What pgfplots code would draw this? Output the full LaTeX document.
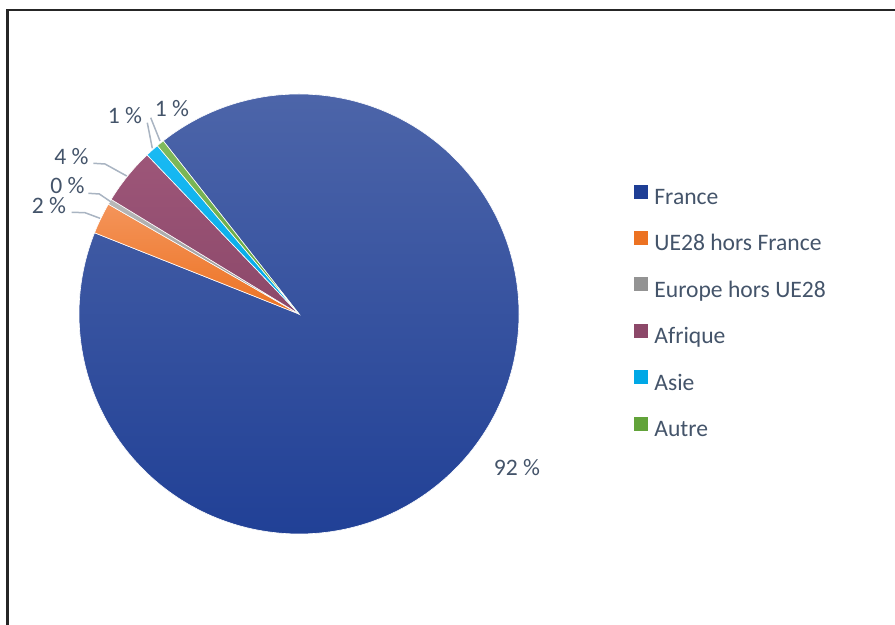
\documentclass[border=0pt]{standalone}
\usepackage{pgfplots}
\pgfplotsset{compat=1.18}
\usepackage{pgfplotstable}
\usepackage{fontspec}
\setmainfont{Carlito}
\definecolor{txt}{HTML}{44546A}
\definecolor{frA}{HTML}{4F67AA}
\definecolor{frB}{HTML}{1E3E95}
\definecolor{orA}{HTML}{F4945A}
\definecolor{orB}{HTML}{EC7222}
\definecolor{grA}{HTML}{B8B8B8}
\definecolor{grB}{HTML}{939393}
\definecolor{afA}{HTML}{9D5679}
\definecolor{afB}{HTML}{8C4869}
\definecolor{asA}{HTML}{1ABAF3}
\definecolor{asB}{HTML}{00A8E6}
\definecolor{auA}{HTML}{80BA5C}
\definecolor{auB}{HTML}{62A33A}
\definecolor{lead}{HTML}{A9B4C2}
\definecolor{frame}{HTML}{262626}

\pgfplotstableread{
name value
France 91.6
UE28 2.3
Europe 0.4
Afrique 4.15
Asie 1.0
Autre 0.55
}\piedata

\newcommand\slice[4]{%
  \shadedraw[top color=#3, bottom color=#4, draw=white, line width=0.3pt]
    (axis cs:299,311) -- ++(#1:110pt) arc[start angle=#1, delta angle={-3.6*#2}, radius=110pt] -- cycle;}

\begin{document}%
\begin{tikzpicture}
\pgfplotstablegetelem{0}{value}\of\piedata \let\vA\pgfplotsretval
\pgfplotstablegetelem{1}{value}\of\piedata \let\vB\pgfplotsretval
\pgfplotstablegetelem{2}{value}\of\piedata \let\vC\pgfplotsretval
\pgfplotstablegetelem{3}{value}\of\piedata \let\vD\pgfplotsretval
\pgfplotstablegetelem{4}{value}\of\piedata \let\vE\pgfplotsretval
\pgfplotstablegetelem{5}{value}\of\piedata \let\vF\pgfplotsretval
\pgfmathsetmacro\aA{128.1}
\pgfmathsetmacro\aB{\aA-3.6*\vA}
\pgfmathsetmacro\aC{\aB-3.6*\vB}
\pgfmathsetmacro\aD{\aC-3.6*\vC}
\pgfmathsetmacro\aE{\aD-3.6*\vD}
\pgfmathsetmacro\aF{\aE-3.6*\vE}
\begin{axis}[
  hide axis, xtick=\empty, ytick=\empty,
  x=0.5pt, y=0.5pt, xmin=0, xmax=895, ymin=0, ymax=625,
  scale only axis, clip=false,
  legend cell align=left,
  legend image code/.code={\fill[#1] (0pt,0pt) rectangle (7pt,7pt);},
  legend style={at={(axis cs:634,440.8)}, anchor=north west, draw=none, fill=none,
    font=\fontsize{11.8}{14}\selectfont, text=txt, row sep=10.7pt, column sep=3pt,
    inner sep=0pt, nodes={inner sep=0pt, text height=8.5pt, text depth=2.5pt}},
]
\coordinate (bl) at (axis cs:0,0);
\coordinate (tr) at (axis cs:895,625);
\draw[frame, line width=1.25pt] (axis cs:7.5,0) -- (axis cs:7.5,615) -- (axis cs:895,615);

\slice{\aA}{\vA}{frA}{frB}
\slice{\aB}{\vB}{orA}{orB}
\slice{\aC}{\vC}{grA}{grB}
\slice{\aD}{\vD}{afA}{afB}
\slice{\aE}{\vE}{asA}{asB}
\slice{\aF}{\vF}{auA}{auB}

\draw[lead, line width=0.75pt] (axis cs:71.7,412.7) -- (axis cs:85,412.3) -- (axis cs:100,406.7);
\draw[lead, line width=0.75pt] (axis cs:88.3,431.7) -- (axis cs:99.3,431) -- (axis cs:110.7,423.3);
\draw[lead, line width=0.75pt] (axis cs:93.3,461.7) -- (axis cs:105,461) -- (axis cs:126.7,449);
\draw[lead, line width=0.75pt] (axis cs:147.3,502.3) -- (axis cs:152.3,476.7);
\draw[lead, line width=0.75pt] (axis cs:150.7,507.3) -- (axis cs:160,484);

\begin{scope}[every node/.style={text=txt, font=\fontsize{11.8}{14}\selectfont, inner sep=0pt}]
\node at (axis cs:517,157) {92 \%};
\node at (axis cs:49,419) {2 \%};
\node at (axis cs:67.5,439) {0 \%};
\node at (axis cs:71.5,468) {4 \%};
\node at (axis cs:125,509) {1 \%};
\node at (axis cs:172,516) {1 \%};
\end{scope}

\addlegendimage{fill=frB, draw=none}\addlegendentry{France}
\addlegendimage{fill=orB, draw=none}\addlegendentry{UE28 hors France}
\addlegendimage{fill=grB, draw=none}\addlegendentry{Europe hors UE28}
\addlegendimage{fill=afB, draw=none}\addlegendentry{Afrique}
\addlegendimage{fill=asB, draw=none}\addlegendentry{Asie}
\addlegendimage{fill=auB, draw=none}\addlegendentry{Autre}
\end{axis}
\pgfresetboundingbox
\path (bl) rectangle (tr);
\end{tikzpicture}%
\end{document}
